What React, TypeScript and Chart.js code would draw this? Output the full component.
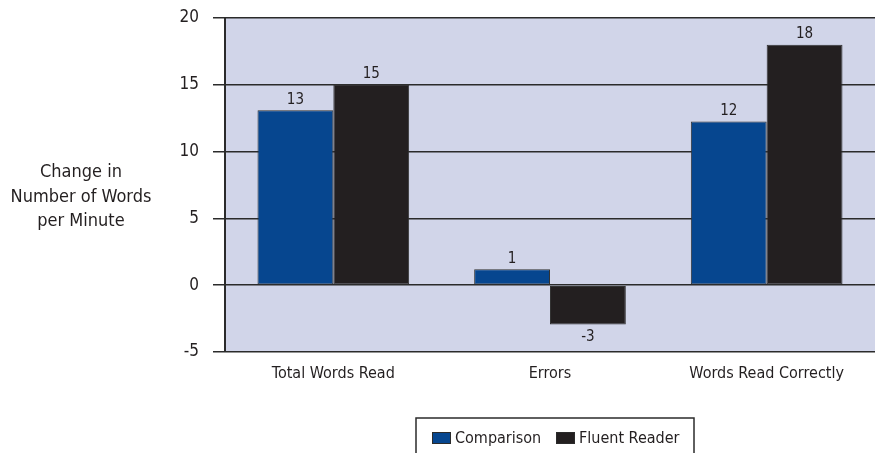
import React, { useEffect, useRef } from "react";
import Chart from "chart.js/auto";

const categories = ["Total Words Read", "Errors", "Words Read Correctly"];
const comparisonValues = [13.1, 1.2, 12.25];
const fluentValues = [15.05, -2.95, 18.0];
const seriesLabels = ["Comparison", "Fluent Reader"];
const yTitleLines = ["Change in", "Number of Words", "per Minute"];
const yMin = -5;
const yMax = 20;
const yStep = 5;

const FONT = '"DejaVu Sans Condensed", "Liberation Sans Narrow", sans-serif';
const BLUE = "#06468f";
const BLACK = "#231f20";
const LINE = "#2b2b2b";
const BG = "#d1d5e9";

const bgPlugin = {
  id: "plotBg",
  beforeDraw(chart: any) {
    const { ctx, chartArea } = chart;
    ctx.save();
    ctx.fillStyle = BG;
    ctx.fillRect(chartArea.left, chartArea.top, chartArea.right - chartArea.left, chartArea.bottom - chartArea.top);
    ctx.restore();
  },
};

const labelPlugin = {
  id: "valueLabels",
  afterDatasetsDraw(chart: any) {
    const { ctx } = chart;
    ctx.save();
    ctx.font = `15px ${FONT}`;
    ctx.fillStyle = "#231f20";
    ctx.textAlign = "center";
    chart.data.datasets.forEach((ds: any, di: number) => {
      const meta = chart.getDatasetMeta(di);
      meta.data.forEach((el: any, i: number) => {
        const v = ds.data[i] as number;
        const txt = String(Math.round(v));
        if (v >= 0) {
          ctx.textBaseline = "bottom";
          ctx.fillText(txt, el.x, el.y - 3);
        } else {
          ctx.textBaseline = "top";
          ctx.fillText(txt, el.x, el.y + 5);
        }
      });
    });
    ctx.restore();
  },
};

const titleLegendPlugin = {
  id: "titleLegend",
  afterDraw(chart: any) {
    const { ctx } = chart;
    ctx.save();
    ctx.font = `18px ${FONT}`;
    ctx.fillStyle = "#231f20";
    ctx.textAlign = "center";
    ctx.textBaseline = "middle";
    const ys = [172, 197, 221];
    yTitleLines.forEach((t, i) => ctx.fillText(t, 81, ys[i]));

    ctx.strokeStyle = LINE;
    ctx.lineWidth = 1.5;
    ctx.strokeRect(416, 418, 278, 60);
    const colors = [BLUE, BLACK];
    const xs = [432, 556];
    ctx.font = `16px ${FONT}`;
    ctx.textAlign = "left";
    ctx.textBaseline = "middle";
    chart.data.datasets.forEach((ds: any, i: number) => {
      ctx.fillStyle = colors[i];
      ctx.fillRect(xs[i], 432, 19, 12);
      ctx.lineWidth = 1;
      ctx.strokeStyle = LINE;
      ctx.strokeRect(xs[i] + 0.5, 432.5, 18, 11);
      ctx.fillStyle = "#231f20";
      ctx.fillText(ds.label, xs[i] + 23, 438.5);
    });
    ctx.restore();
  },
};

export default function App() {
  const ref = useRef<HTMLCanvasElement | null>(null);
  useEffect(() => {
    if (!ref.current) return;
    const chart = new Chart(ref.current, {
      type: "bar",
      data: {
        labels: categories,
        datasets: [
          {
            label: seriesLabels[0],
            data: comparisonValues,
            backgroundColor: BLUE,
            borderColor: "#333333",
            borderWidth: 1,
            borderSkipped: false,
          },
          {
            label: seriesLabels[1],
            data: fluentValues,
            backgroundColor: BLACK,
            borderColor: "#333333",
            borderWidth: 1,
            borderSkipped: false,
          },
        ],
      },
      options: {
        animation: false,
        responsive: false,
        maintainAspectRatio: false,
        layout: { padding: { left: 0, right: 0, top: 18, bottom: 0 } },
        datasets: { bar: { categoryPercentage: 0.7, barPercentage: 1.0 } },
        plugins: {
          legend: { display: false },
          tooltip: { enabled: false },
        },
        scales: {
          x: {
            grid: { display: false, drawTicks: false },
            border: { display: false },
            ticks: { color: "#231f20", font: { family: FONT, size: 16 }, padding: 12, maxRotation: 0 },
            afterFit(scale: any) {
              scale.height = 101;
              scale.paddingLeft = 0;
              scale.paddingRight = 0;
            },
          },
          y: {
            min: yMin,
            max: yMax,
            ticks: { stepSize: yStep, color: "#231f20", font: { family: FONT, size: 17 }, padding: 14 },
            grid: { color: LINE, lineWidth: 1.5, drawTicks: true, tickLength: 12 },
            border: { display: true, color: LINE, width: 2 },
            afterFit(scale: any) {
              scale.width = 225;
              scale.paddingTop = 0;
              scale.paddingBottom = 0;
            },
          },
        },
      },
      plugins: [bgPlugin, labelPlugin, titleLegendPlugin],
    } as any);
    return () => chart.destroy();
  }, []);
  return (
    <div style={{ position: "fixed", left: 0, top: 0, width: 875, height: 453 }}>
      <canvas ref={ref} width={875} height={453} style={{ display: "block", width: 875, height: 453 }} />
    </div>
  );
}
